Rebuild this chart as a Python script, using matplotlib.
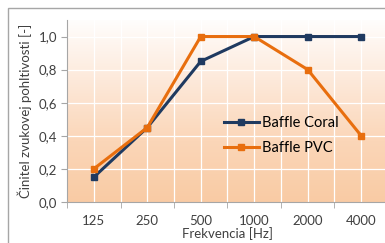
import numpy as np
import matplotlib
matplotlib.use('Agg')
import matplotlib.pyplot as plt
from matplotlib.patches import Rectangle
from matplotlib.colors import LinearSegmentedColormap

frekvencie = ['125', '250', '500', '1000', '2000', '4000']
baffle_coral = [0.15, 0.45, 0.85, 1.0, 1.0, 1.0]
baffle_pvc = [0.2, 0.45, 1.0, 1.0, 0.8, 0.4]
y_ticks = [0.0, 0.2, 0.4, 0.6, 0.8, 1.0]

plt.rcParams['font.family'] = ['Lato', 'DejaVu Sans']

fig = plt.figure(figsize=(3.85, 2.43), dpi=100)
# ram grafu
fig.patches.append(Rectangle((8 / 385, -0.1), 1.2, 1 - 8 / 243 + 0.1, transform=fig.transFigure,
                             fill=False, edgecolor='#a6a6a6', linewidth=1.0))

ax = fig.add_axes([67 / 385, 41 / 243, 321 / 385, 182 / 243])
x = np.arange(len(frekvencie))

# gradient pozadia
grad = np.linspace(0, 1, 256).reshape(-1, 1)
cmap = LinearSegmentedColormap.from_list('g', ['#f9cba4', '#fbd6b8', '#fde9da', '#fffefd'])
ax.imshow(grad, cmap=cmap, extent=[-0.5, 5.5, 0, 1.1], origin='lower', aspect='auto', zorder=0)

for y in y_ticks[1:]:
    ax.axhline(y, color='white', linewidth=0.9, zorder=1)
for xi in np.arange(0, 5.6, 0.5):
    ax.axvline(xi, color='white', linewidth=0.9, zorder=1)

ax.plot(x, baffle_coral, color='#1f3a60', linewidth=2.2, marker='s', markersize=5, label='Baffle Coral', zorder=3)
ax.plot(x, baffle_pvc, color='#e86e0e', linewidth=2.2, marker='s', markersize=5, label='Baffle PVC', zorder=3)

ax.set_xlim(-0.5, 5.5)
ax.set_ylim(0, 1.1)
ax.set_yticks(y_ticks)
ax.set_yticklabels([f'{v:.1f}'.replace('.', ',') for v in y_ticks], fontsize=9.5)
ax.set_xticks(x)
ax.set_xticklabels(frekvencie, fontsize=9.5)
ax.set_xticks(np.arange(-0.5, 6, 1), minor=True)
ax.tick_params(axis='x', which='major', length=0, pad=9, colors='#404040')
ax.tick_params(axis='x', which='minor', length=4, color='#a6a6a6')
ax.tick_params(axis='y', length=4, pad=3, colors='#404040')
ax.tick_params(axis='y', color='#a6a6a6')

for s in ['top', 'right']:
    ax.spines[s].set_visible(False)
for s in ['left', 'bottom']:
    ax.spines[s].set_color('#a6a6a6')
    ax.spines[s].set_linewidth(0.8)

ax.set_xlabel('Frekvencia [Hz]', fontsize=9.5, labelpad=0.5, color='#404040')
ax.set_ylabel('Činitel zvukovej pohltivosti [-]', fontsize=9.5, labelpad=5, color='#404040')

ax.legend(loc='upper left', bbox_to_anchor=(0.47, 0.505), frameon=False, fontsize=10.5,
          handlelength=2.4, labelspacing=0.75, handletextpad=0.2, borderaxespad=0)

fig.savefig('out.png', dpi=100)
